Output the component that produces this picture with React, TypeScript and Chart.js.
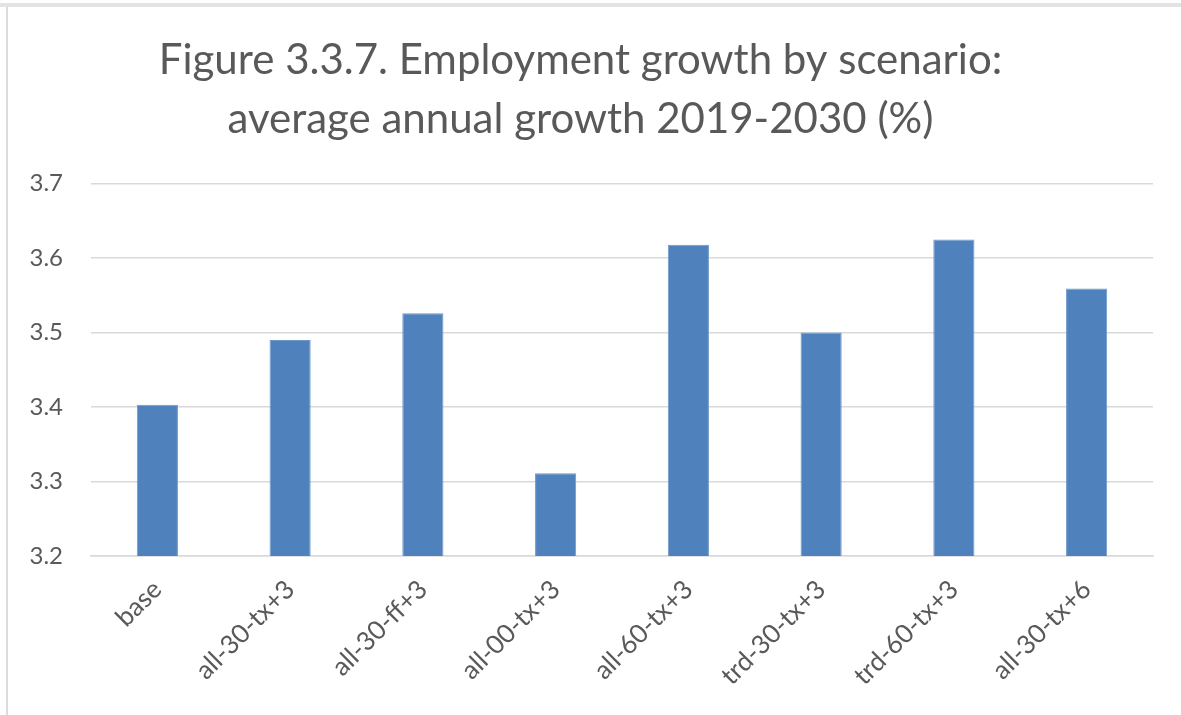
import React, { useEffect, useRef } from "react";
import { Chart, registerables } from "chart.js";

Chart.register(...registerables);

const categories = [
  "base",
  "all-30-tx+3",
  "all-30-ff+3",
  "all-00-tx+3",
  "all-60-tx+3",
  "trd-30-tx+3",
  "trd-60-tx+3",
  "all-30-tx+6",
];
const growth = [3.403, 3.49, 3.526, 3.311, 3.618, 3.5, 3.625, 3.559];
const titleLines = [
  "Figure 3.3.7. Employment growth by scenario:",
  "average annual growth 2019-2030 (%)",
];
const yMin = 3.2;
const yMax = 3.7;
const yStep = 0.1;

export default function App() {
  const ref = useRef<HTMLCanvasElement | null>(null);

  useEffect(() => {
    if (!ref.current) return;
    const chart = new Chart(ref.current, {
      type: "bar",
      data: {
        labels: categories,
        datasets: [
          {
            data: growth,
            backgroundColor: "#4f81bd",
            borderColor: "#6d97cb",
            borderWidth: 1,
            categoryPercentage: 1,
            barPercentage: 0.31,
          },
        ],
      },
      options: {
        animation: false,
        responsive: false,
        layout: { padding: { left: 0, right: 28, top: 0, bottom: 0 } },
        plugins: {
          legend: { display: false },
          tooltip: { enabled: false },
          title: {
            display: true,
            text: titleLines,
            color: "#595959",
            font: { family: "Lato", size: 42, weight: "normal", lineHeight: 1.4 },
            padding: { top: 23, bottom: 35 },
          },
        },
        scales: {
          x: {
            grid: { display: false, drawTicks: false },
            border: { display: true, color: "#d9d9d9", width: 1.5 },
            ticks: {
              color: "#595959",
              font: { family: "Lato", size: 26 },
              minRotation: 45,
              maxRotation: 45,
              padding: 18,
            },
            afterFit: (s: any) => {
              s.height = 159;
            },
          },
          y: {
            min: yMin,
            max: yMax,
            grid: { color: "#d9d9d9", lineWidth: 1.5, drawTicks: false },
            border: { display: false },
            ticks: {
              stepSize: yStep,
              color: "#595959",
              font: { family: "Lato", size: 24 },
              padding: 28,
              callback: (v: any) => Number(v).toFixed(1),
            },
            afterFit: (s: any) => {
              s.width = 83;
            },
          },
        },
      },
    });
    return () => chart.destroy();
  }, []);

  return (
    <div style={{ position: "fixed", left: 0, top: 0, width: 1181, height: 715, background: "#fff", overflow: "hidden" }}>
      <div style={{ position: "absolute", left: 0, top: 3, width: 1181, height: 4, background: "#e3e3e3" }} />
      <div style={{ position: "absolute", left: 6, top: 7, width: 2, height: 708, background: "#dcdcdc" }} />
      <canvas ref={ref} width={1173} height={707} style={{ position: "absolute", left: 8, top: 8 }} />
    </div>
  );
}
